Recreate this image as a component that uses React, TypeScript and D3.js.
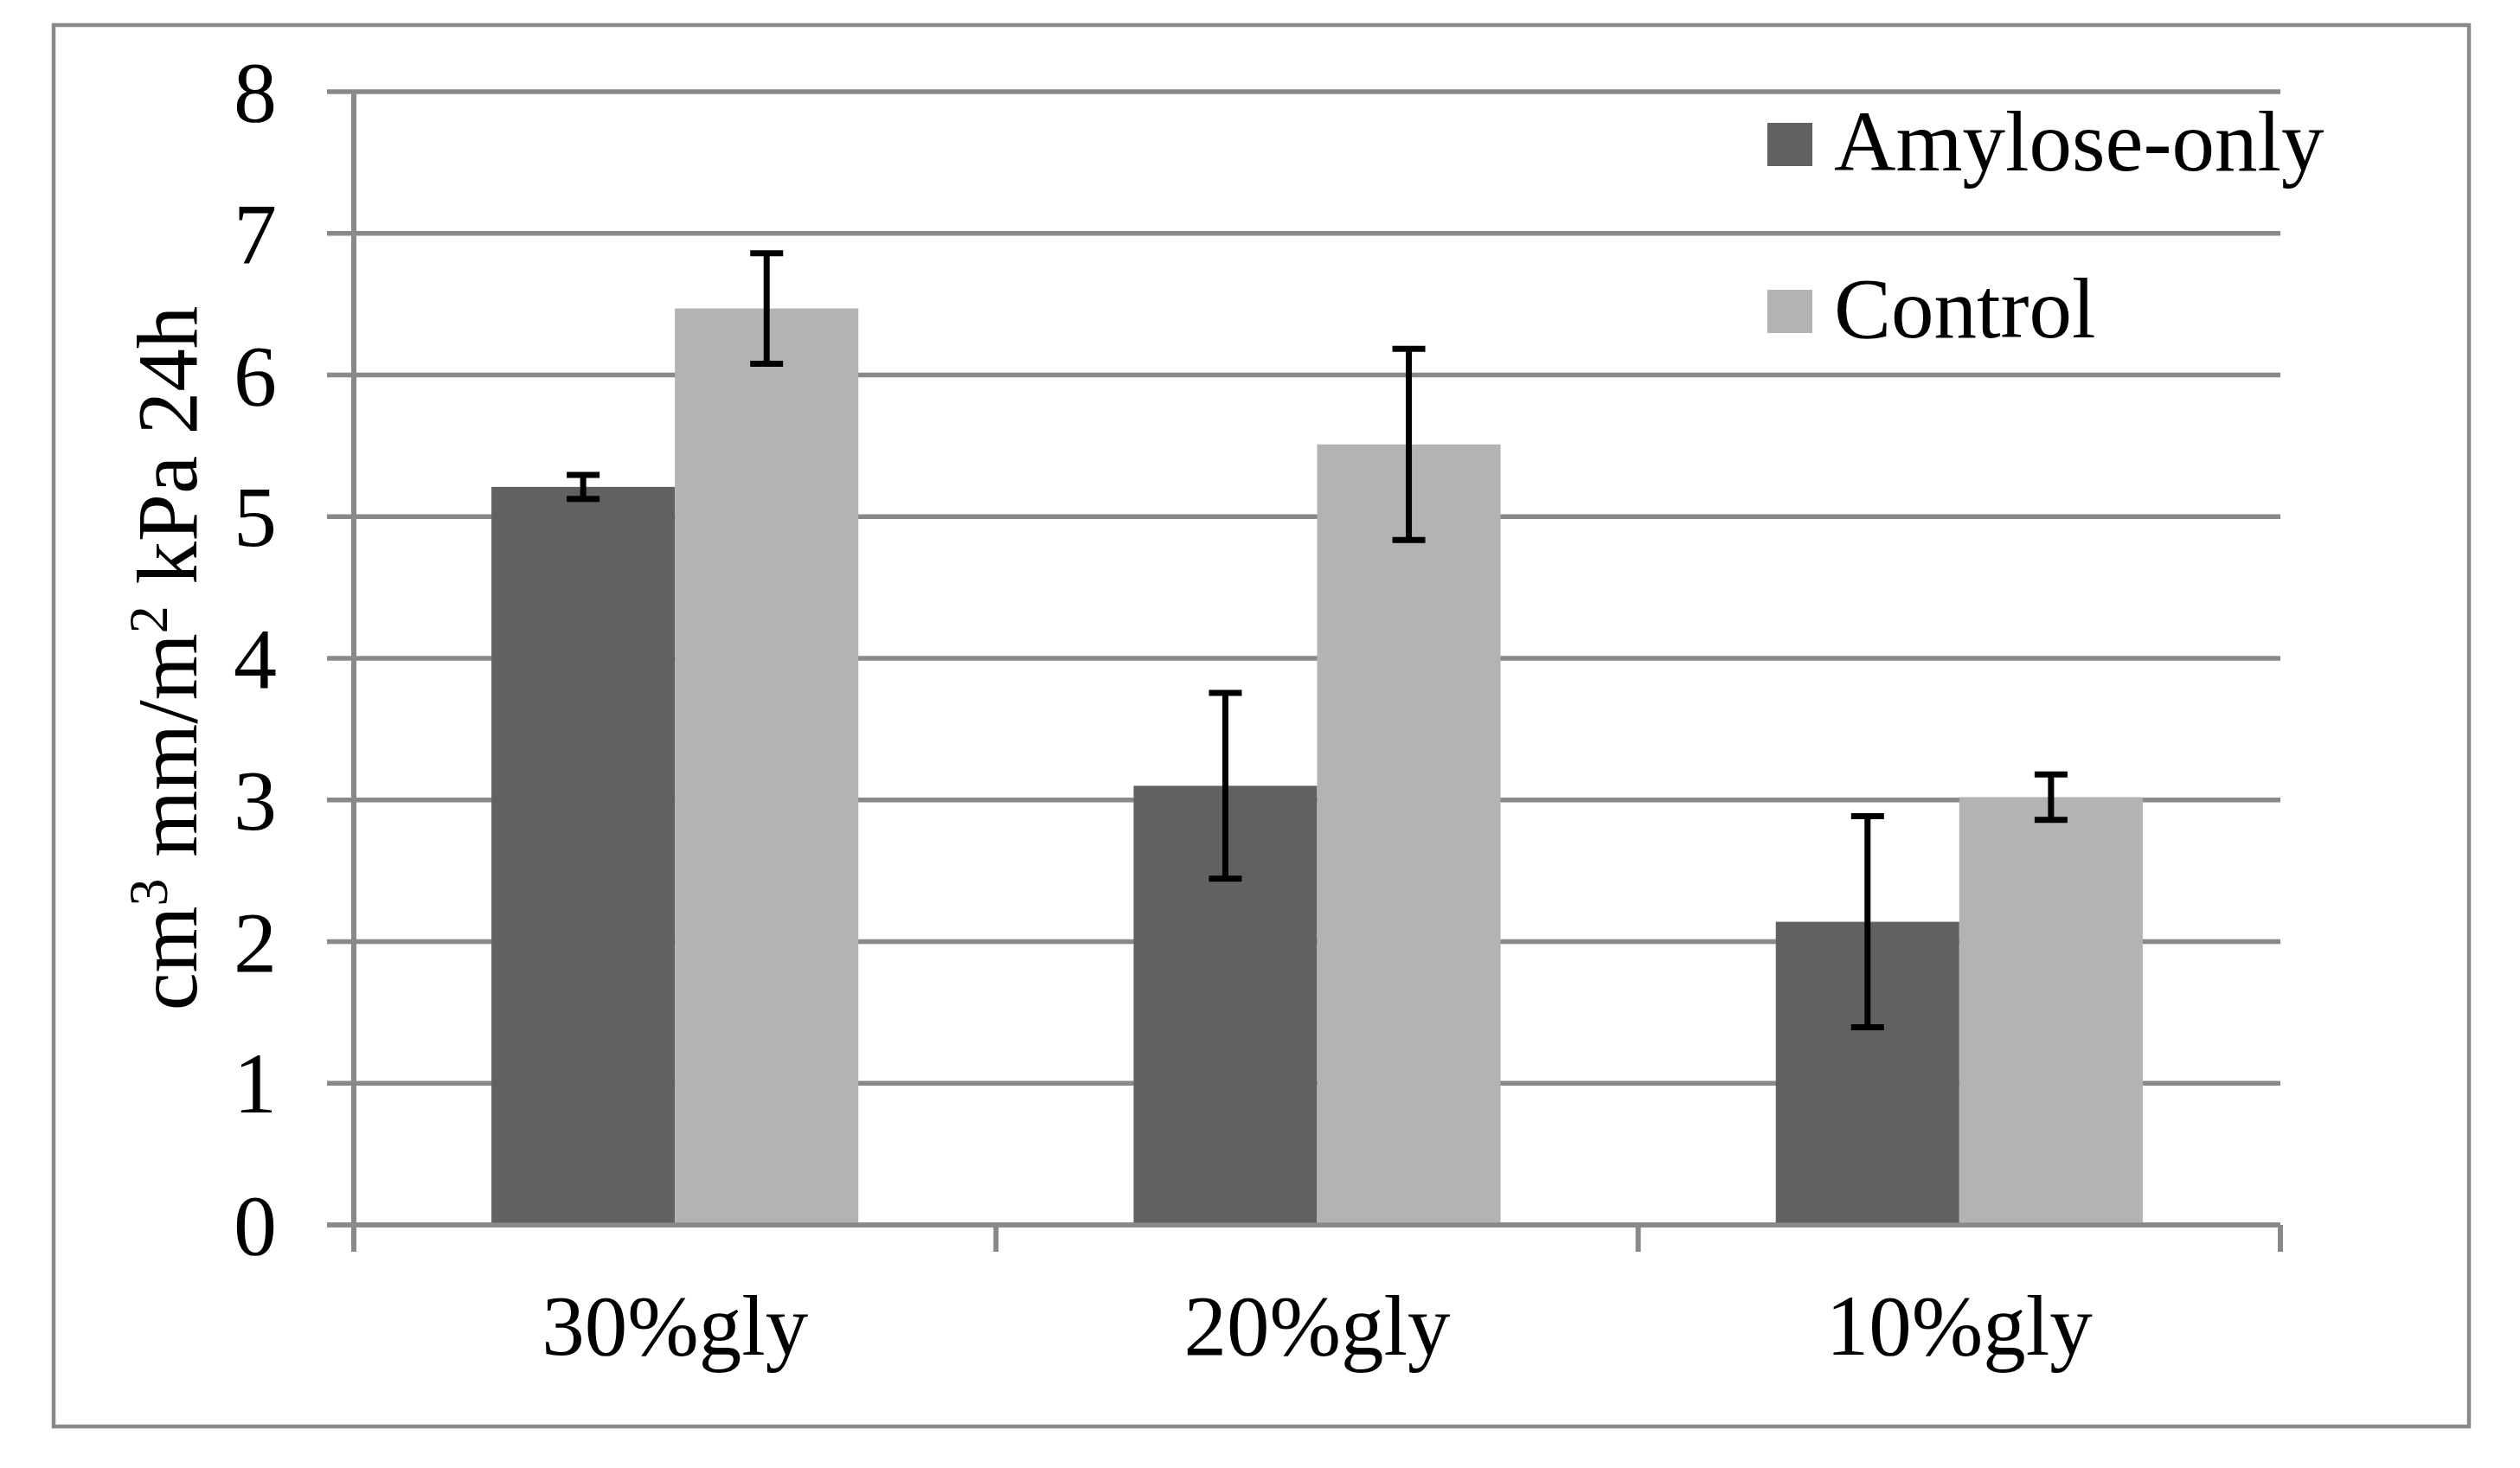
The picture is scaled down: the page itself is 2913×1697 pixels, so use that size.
import React from 'react';
import * as d3 from 'd3';

// Chart data
const categories = ['30%gly', '20%gly', '10%gly'];
const seriesNames = ['Amylose-only', 'Control'];
const amyloseValues = [5.21, 3.1, 2.14];
const amyloseErrors = [0.085, 0.655, 0.745];
const controlValues = [6.47, 5.51, 3.02];
const controlErrors = [0.39, 0.675, 0.16];
const yTicks = [0, 1, 2, 3, 4, 5, 6, 7, 8];

const seriesColors = ['#616161', '#b3b3b3'];
const gridColor = '#898989';
const font = '"Liberation Serif", "Times New Roman", serif';

const W = 2913;
const H = 1697;

const App: React.FC = () => {
  // Plot frame
  const left = 409;
  const right = 2636;
  const top = 106;
  const bottom = 1416;

  const x = d3.scaleBand<string>().domain(categories).range([left, right]).padding(0);
  // Excel-like 150% gap width -> outer padding 0.75 step on each side
  const xInner = d3
    .scaleBand<string>()
    .domain(seriesNames)
    .range([0, x.bandwidth()])
    .paddingInner(0)
    .paddingOuter(0.75);
  const y = d3.scaleLinear().domain([0, 8]).range([bottom, top]);

  const series = [
    { name: seriesNames[0], values: amyloseValues, errors: amyloseErrors, color: seriesColors[0] },
    { name: seriesNames[1], values: controlValues, errors: controlErrors, color: seriesColors[1] },
  ];

  const capHalf = 19;
  const boundaries = [...categories.map(c => x(c) as number), right];

  return (
    <svg
      width={W}
      height={H}
      style={{ position: 'absolute', left: 0, top: 0, background: '#fff' }}
      fontFamily={font}
    >
      <rect x={0} y={0} width={W} height={H} fill="#fff" />
      {/* outer chart border */}
      <rect x={62} y={29} width={2792} height={1620} fill="none" stroke={gridColor} strokeWidth={4.5} />

      {/* gridlines + y ticks */}
      {yTicks.map(t => (
        <line
          key={`g${t}`}
          x1={378}
          x2={right}
          y1={y(t)}
          y2={y(t)}
          stroke={gridColor}
          strokeWidth={5.5}
        />
      ))}

      {/* bars */}
      {series.map(s =>
        categories.map((c, i) => (
          <rect
            key={`${s.name}-${c}`}
            x={(x(c) as number) + (xInner(s.name) as number)}
            y={y(s.values[i])}
            width={xInner.bandwidth()}
            height={y(0) - y(s.values[i])}
            fill={s.color}
          />
        ))
      )}

      {/* axes */}
      <line x1={left} x2={left} y1={top} y2={1447} stroke={gridColor} strokeWidth={6} />
      <line x1={378} x2={right} y1={y(0)} y2={y(0)} stroke={gridColor} strokeWidth={5.5} />
      {boundaries.map((b, i) => (
        <line key={`xt${i}`} x1={b} x2={b} y1={y(0)} y2={1447} stroke={gridColor} strokeWidth={6} />
      ))}

      {/* error bars */}
      {series.map(s =>
        categories.map((c, i) => {
          const cx = (x(c) as number) + (xInner(s.name) as number) + xInner.bandwidth() / 2;
          const hi = y(s.values[i] + s.errors[i]);
          const lo = y(s.values[i] - s.errors[i]);
          return (
            <g key={`e-${s.name}-${c}`} stroke="#000" strokeWidth={7}>
              <line x1={cx} x2={cx} y1={hi} y2={lo} />
              <line x1={cx - capHalf} x2={cx + capHalf} y1={hi} y2={hi} />
              <line x1={cx - capHalf} x2={cx + capHalf} y1={lo} y2={lo} />
            </g>
          );
        })
      )}

      {/* y tick labels */}
      {yTicks.map(t => (
        <text key={`yl${t}`} x={320} y={y(t) + 34} textAnchor="end" fontSize={100} fill="#000">
          {t}
        </text>
      ))}

      {/* category labels */}
      {categories.map(c => (
        <text
          key={`xl${c}`}
          x={(x(c) as number) + x.bandwidth() / 2}
          y={1566}
          textAnchor="middle"
          fontSize={99}
          fill="#000"
        >
          {c}
        </text>
      ))}

      {/* y axis title */}
      <text
        transform={`translate(227, ${(top + bottom) / 2}) rotate(-90)`}
        textAnchor="middle"
        fontSize={99}
        fill="#000"
      >
        cm<tspan fontSize={64} dy={-34}>3</tspan>
        <tspan dy={34}> mm/m</tspan>
        <tspan fontSize={64} dy={-34}>2</tspan>
        <tspan dy={34}> kPa 24h</tspan>
      </text>

      {/* legend */}
      {series.map((s, i) => (
        <g key={`lg${s.name}`} transform={`translate(2043, ${142 + i * 193})`}>
          <rect x={0} y={0} width={52} height={50} fill={s.color} />
          <text x={77} y={55} fontSize={99} fill="#000">
            {s.name}
          </text>
        </g>
      ))}
    </svg>
  );
};

export default App;
